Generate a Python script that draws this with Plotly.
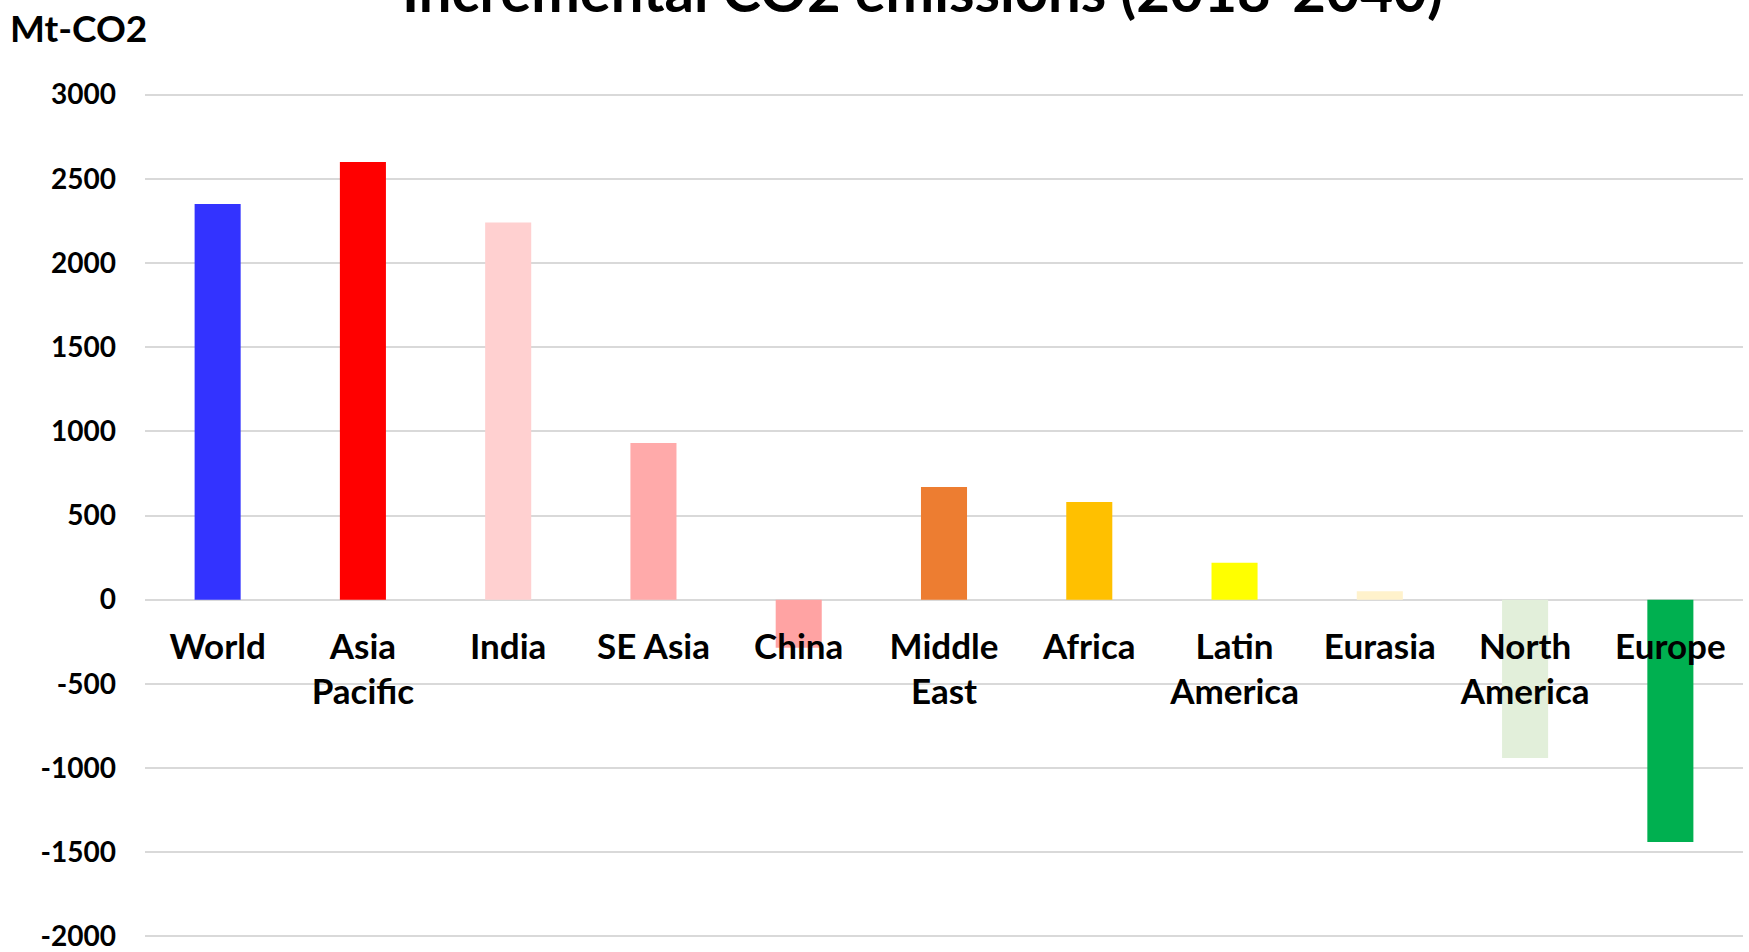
import plotly.graph_objects as go

# Incremental CO2 emissions by region, 2018-2040 (Mt-CO2)
regions = ["World", "Asia<br>Pacific", "India", "SE Asia", "China", "Middle<br>East",
           "Africa", "Latin<br>America", "Eurasia", "North<br>America", "Europe"]
increments = [2350, 2600, 2240, 930, -285, 670, 580, 220, 50, -940, -1440]
bar_colors = ["#3333FF", "#FF0000", "#FFD0D0", "#FFAAAA", "#FFA3A3", "#ED7D31",
              "#FFC000", "#FFFF00", "#FFF2CC", "#E2EFDA", "#00B050"]
y_ticks = [3000, 2500, 2000, 1500, 1000, 500, 0, -500, -1000, -1500, -2000]

FONT = "Lato"
Y_MIN, Y_MAX = -2010, 3010
PLOT_W, PLOT_H = 1598, 845

fig = go.Figure(
    go.Bar(
        x=regions,
        y=increments,
        marker=dict(color=bar_colors, line=dict(width=0)),
        hoverinfo="x+y",
    )
)

zero_frac = (0 - Y_MIN) / (Y_MAX - Y_MIN)

fig.update_layout(
    width=1749,
    height=952,
    margin=dict(l=145, r=6, t=93, b=14, autoexpand=False),
    paper_bgcolor="white",
    plot_bgcolor="white",
    bargap=0.683,
    showlegend=False,
    font=dict(family=FONT, color="black"),
    xaxis=dict(
        type="category",
        anchor="free",
        position=zero_frac,
        automargin=False,
        showgrid=False,
        showline=False,
        zeroline=False,
        ticks="",
        tickfont=dict(family=FONT, size=35, weight="bold", color="black"),
        ticklabelstandoff=23,
        ticklabeloverflow="allow",
        layer="above traces",
    ),
    yaxis=dict(
        range=[Y_MIN, Y_MAX],
        automargin=False,
        tickvals=y_ticks,
        ticktext=[str(v) for v in y_ticks],
        showgrid=True,
        gridcolor="#D9D9D9",
        gridwidth=2,
        zeroline=True,
        zerolinecolor="#D9D9D9",
        zerolinewidth=2,
        showline=False,
        ticks="",
        tickfont=dict(family=FONT, size=28, weight="bold", color="black"),
        ticklabelstandoff=28,
        ticklabeloverflow="allow",
    ),
    annotations=[
        # chart title, sitting partly above the top edge of the page
        dict(
            text="Incremental CO2 emissions (2018-2040)",
            xref="paper",
            yref="paper",
            x=(922 - 145) / PLOT_W,
            y=1 + (93 + 10) / PLOT_H,
            xanchor="center",
            yanchor="middle",
            showarrow=False,
            font=dict(family=FONT, size=58, weight="bold", color="black"),
        ),
        # unit label above the value axis
        dict(
            text="Mt-CO2",
            xref="paper",
            yref="paper",
            x=-137 / PLOT_W,
            y=1 + 66 / PLOT_H,
            xanchor="left",
            yanchor="middle",
            showarrow=False,
            font=dict(family=FONT, size=37, weight="bold", color="black"),
        ),
    ],
)

fig.write_html("out.html")
